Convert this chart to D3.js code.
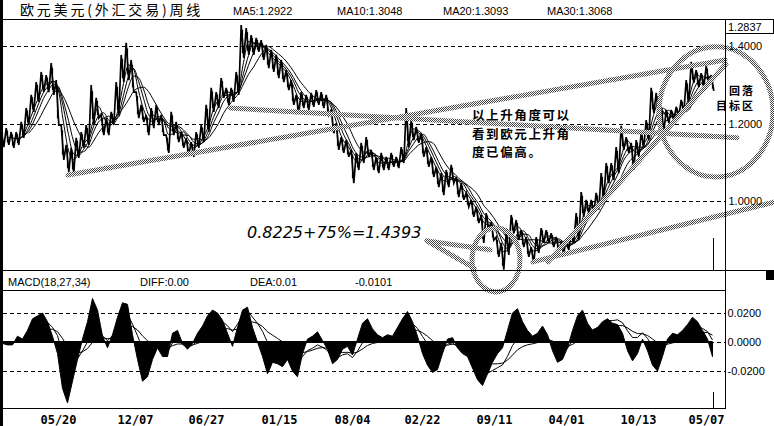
<!DOCTYPE html>
<html><head><meta charset="utf-8">
<script src="https://cdn.jsdelivr.net/npm/d3@7"></script>
<style>
html,body{margin:0;padding:0;background:#fff;}
svg{display:block;}
</style></head><body>
<svg id="c" width="774" height="426"></svg>
<script>
// ---- data (weekly EUR/USD, one entry per ~6 weeks) ----
const highs = [1.183,1.188,1.178,1.178,1.204,1.240,1.274,1.307,1.333,1.325,
1.356,1.312,1.196,1.145,1.137,1.163,1.178,1.196,1.299,1.266,
1.222,1.214,1.230,1.307,1.377,1.408,1.364,1.281,1.248,1.222,
1.240,1.248,1.222,1.170,1.230,1.204,1.178,1.163,1.152,1.178,
1.196,1.248,1.292,1.281,1.317,1.292,1.292,1.333,1.454,1.446,
1.428,1.421,1.415,1.403,1.390,1.377,1.364,1.338,1.312,1.274,
1.281,1.274,1.279,1.286,1.281,1.274,1.235,1.201,1.165,1.157,
1.132,1.124,1.150,1.165,1.132,1.114,1.124,1.114,1.124,1.114,
1.139,1.240,1.209,1.191,1.175,1.139,1.114,1.088,1.072,1.080,
1.093,1.062,1.046,1.021,1.003,0.985,0.964,0.969,0.946,0.907,
0.892,0.920,0.964,0.951,0.925,0.907,0.881,0.907,0.930,0.925,
0.917,0.907,0.892,0.899,0.917,0.969,1.023,1.003,1.003,1.021,
1.072,1.098,1.098,1.139,1.194,1.165,1.150,1.157,1.175,1.209,
1.292,1.279,1.243,1.235,1.235,1.243,1.261,1.312,1.359,1.338,
1.330,1.348,1.325];
const lows = [1.139,1.145,1.137,1.145,1.163,1.196,1.230,1.256,1.281,1.281,
1.274,1.196,1.106,1.075,1.072,1.111,1.137,1.145,1.196,1.214,
1.170,1.170,1.196,1.222,1.307,1.312,1.281,1.214,1.204,1.170,
1.188,1.196,1.170,1.124,1.170,1.152,1.137,1.119,1.114,1.137,
1.152,1.178,1.230,1.240,1.266,1.248,1.256,1.274,1.369,1.377,
1.377,1.385,1.364,1.343,1.333,1.317,1.307,1.286,1.248,1.227,
1.240,1.235,1.243,1.248,1.240,1.222,1.175,1.132,1.124,1.114,
1.046,1.080,1.098,1.114,1.080,1.072,1.080,1.080,1.088,1.085,
1.098,1.139,1.157,1.150,1.114,1.088,1.062,1.036,1.015,1.036,
1.046,1.010,1.003,0.985,0.959,0.943,0.892,0.925,0.899,0.856,
0.8225,0.861,0.917,0.899,0.881,0.856,0.840,0.866,0.892,0.892,
0.881,0.874,0.866,0.874,0.892,0.899,0.959,0.969,0.969,0.977,
1.003,1.046,1.054,1.072,1.132,1.124,1.080,1.114,1.139,1.157,
1.227,1.217,1.178,1.201,1.209,1.217,1.227,1.253,1.305,1.294,
1.294,1.305,1.284];
const macdHist = [-0.001,-0.002,-0.002,0.004,0.002,0.008,0.016,0.018,0.020,0.014,
0.004,-0.008,-0.032,-0.042,-0.027,-0.012,0.002,0.014,0.030,0.022,
0.004,-0.004,0.005,0.017,0.027,0.026,0.005,-0.012,-0.027,-0.024,
-0.012,-0.004,-0.010,-0.010,0.006,0.008,-0.001,-0.005,-0.001,0.006,
0.011,0.018,0.022,0.020,0.015,0.006,-0.003,0.010,0.022,0.024,
0.010,0.000,-0.010,-0.022,-0.014,-0.015,-0.017,-0.012,-0.020,-0.024,
-0.008,0.002,0.004,0.007,0.001,-0.005,-0.015,-0.012,-0.005,-0.003,
-0.009,0.002,0.013,0.016,0.009,0.005,0.003,0.005,0.004,0.010,
0.016,0.021,0.014,0.004,-0.008,-0.016,-0.021,-0.019,-0.008,0.002,
0.003,-0.004,-0.008,-0.010,-0.018,-0.026,-0.030,-0.022,-0.014,-0.008,
-0.004,0.008,0.020,0.023,0.014,0.008,0.004,0.006,0.011,0.005,
-0.006,-0.014,-0.012,-0.004,0.008,0.018,0.022,0.013,0.008,0.010,
0.014,0.016,0.013,0.012,0.006,-0.006,-0.013,-0.008,0.002,-0.006,
-0.016,-0.020,-0.010,0.002,0.006,0.005,0.008,0.012,0.017,0.014,
0.008,0.002,-0.0101];
const maNames = ["MA5","MA10","MA20","MA30"];
const maLast = ["1.2922","1.3048","1.3093","1.3068"];
const maWindows = [2,3,4,6];
const priceTicks = [1.0, 1.2, 1.4];
const macdTicks = [0.02, 0, -0.02];
const dateLabels = ["05/20","12/07","06/27","01/15","08/04","02/22","09/11","04/01","10/13","05/07"];
const dateIdx = [11.1,26.5,40.7,55.3,69.9,83.9,98.3,112.7,127.1,140.7];
const title = "欧元美元(外汇交易)周线";
const macdTitle = ["MACD(18,27,34)","DIFF:0.00","DEA:0.01","-0.0101"];
const lastPrice = "1.2837";
const noteCalc = "0.8225+75%=1.4393";
const noteLines = ["以上升角度可以","看到欧元上升角","度已偏高。"];
const noteTarget = ["回落","目标区"];
// hand-drawn annotation geometry in data units [index, price]
const trendLines = [
  [[13.1,1.067],[144.5,1.364]],
  [[45.5,1.240],[146.9,1.163]],
  [[106.1,0.843],[154.3,0.997]],
  [[109.1,0.843],[144.7,1.354]],
  [[84.9,0.897],[97.5,0.874]],
  [[84.9,0.897],[94.3,0.827]]
];
const rings = [ // [cIdx, cPrice, rIdx, rPrice]
  [98.7,0.848,4.8,0.0826],
  [142.7,1.230,11.4,0.168]
];

// ---- drawing ----
const N = highs.length;
const svg = d3.select("#c");
const latin = "'Liberation Sans', Arial, 'Noto Sans CJK SC', sans-serif";
const x = d3.scaleLinear().domain([0, N-1]).range([2.5, 712.5]);
const y = d3.scaleLinear().domain([1.0, 1.4]).range([201, 46]);
const yM = d3.scaleLinear().domain([-0.02, 0.02]).range([371, 313]);
const AX = 725.5;

const defs = svg.append("defs");
const pat = defs.append("pattern").attr("id","chk").attr("width",2).attr("height",2).attr("patternUnits","userSpaceOnUse");
pat.append("rect").attr("width",2).attr("height",2).attr("fill","#fff");
pat.append("rect").attr("width",1).attr("height",1).attr("fill","#444");
pat.append("rect").attr("x",1).attr("y",1).attr("width",1).attr("height",1).attr("fill","#444");
defs.append("clipPath").attr("id","cm").append("rect").attr("x",3).attr("y",20).attr("width",AX-3).attr("height",251);
defs.append("clipPath").attr("id","cd").append("rect").attr("x",3).attr("y",291).attr("width",AX-3).attr("height",117);

// gridlines
const grid = svg.append("g").attr("stroke","#000").attr("stroke-width",1).attr("stroke-dasharray","4,3");
priceTicks.forEach(t => grid.append("line").attr("x1",3).attr("x2",AX).attr("y1",Math.round(y(t))+0.5).attr("y2",Math.round(y(t))+0.5));
macdTicks.forEach(t => grid.append("line").attr("x1",3).attr("x2",AX).attr("y1",Math.round(yM(t))+0.5).attr("y2",Math.round(yM(t))+0.5));

// price: jagged high/low strokes
const idx = d3.range(N);
const gMain = svg.append("g").attr("clip-path","url(#cm)");
const zig = [];
idx.forEach(i => { zig.push([x(i)-1.3, y(highs[i])]); zig.push([x(i)+1.3, y(lows[i])]); });
gMain.append("path").datum(zig)
  .attr("d", d3.line())
  .attr("fill","none").attr("stroke","#000").attr("stroke-width",1.7).attr("stroke-linejoin","miter");
gMain.selectAll("rect.bar").data(idx).join("rect").attr("class","bar")
  .attr("x", i => x(i)-0.6).attr("width",1.2)
  .attr("y", i => y(highs[i]) + (y(lows[i])-y(highs[i]))*0.15)
  .attr("height", i => (y(lows[i])-y(highs[i]))*0.7).attr("fill","#000");
const mid = idx.map(i => (highs[i]+lows[i])/2);
maWindows.forEach(w => {
  const ma = idx.map(i => i < w-1 ? null : d3.mean(mid.slice(i-w+1, i+1)));
  gMain.append("path").datum(idx)
    .attr("d", d3.line().defined(i=>ma[i]!=null).x(i=>x(i)+1).y(i=>y(ma[i])).curve(d3.curveMonotoneX))
    .attr("fill","none").attr("stroke","#000").attr("stroke-width",1);
});

// MACD
const gM = svg.append("g").attr("clip-path","url(#cd)");
gM.append("path").datum(idx)
  .attr("d", d3.area().x(i=>x(i)).y0(yM(0)).y1(i=>yM(macdHist[i])))
  .attr("fill","#000").attr("stroke","#000").attr("stroke-width",1);
gM.append("line").attr("x1",x(0)).attr("x2",x(N-1)).attr("y1",yM(0)).attr("y2",yM(0)).attr("stroke","#000").attr("stroke-width",2);
let dea = 0; const deaA = [], diffA = [];
macdHist.forEach(h => { dea = dea*0.93 + 0.13*h; deaA.push(dea); diffA.push(dea + 0.33*h); });
[deaA, diffA].forEach(arr => {
  gM.append("path").datum(idx)
    .attr("d", d3.line().x(i=>x(i)).y(i=>yM(arr[i])))
    .attr("fill","none").attr("stroke","#000").attr("stroke-width",1);
});

// annotations
const ann = svg.append("g").attr("fill","none").attr("stroke","url(#chk)").attr("stroke-width",5).attr("stroke-linecap","round");
trendLines.forEach(l => ann.append("line")
  .attr("x1",x(l[0][0])).attr("y1",y(l[0][1])).attr("x2",x(l[1][0])).attr("y2",y(l[1][1])));
rings.forEach(r => ann.append("ellipse")
  .attr("cx",x(r[0])).attr("cy",y(r[1]))
  .attr("rx",x(r[0]+r[2])-x(r[0])).attr("ry",y(r[1]-r[3])-y(r[1])));

svg.append("text").attr("x",247).attr("y",238).text(noteCalc)
  .attr("font-family","'DejaVu Sans', sans-serif").attr("font-style","italic").attr("font-size",16).attr("fill","#000");
noteLines.forEach((t,i) => svg.append("text").attr("x",472).attr("y",[120,138.5,157][i]).text(t)
  .attr("font-family","'Noto Sans CJK SC', sans-serif").attr("font-weight",700).attr("font-size",12.5).attr("letter-spacing",1.6).attr("fill","#000"));
noteTarget.forEach((t,i) => svg.append("text").attr("x",[729,716][i]).attr("y",[95,110][i]).text(t)
  .attr("font-family","'Noto Sans CJK SC', sans-serif").attr("font-weight",700).attr("font-size",11).attr("letter-spacing",2).attr("fill","#000"));

// frames
const fr = svg.append("g").attr("stroke","#000").attr("stroke-width",1).attr("shape-rendering","crispEdges");
fr.append("line").attr("x1",0).attr("x2",774).attr("y1",19.5).attr("y2",19.5);
fr.append("line").attr("x1",0).attr("x2",766).attr("y1",270.5).attr("y2",270.5);
fr.append("line").attr("x1",0).attr("x2",AX).attr("y1",290.5).attr("y2",290.5);
fr.append("line").attr("x1",0).attr("x2",AX).attr("y1",408.5).attr("y2",408.5);
fr.append("line").attr("x1",AX).attr("x2",AX).attr("y1",19.5).attr("y2",408.5);
fr.append("rect").attr("x",AX).attr("y",19.5).attr("width",48).attr("height",13.5).attr("fill","none");
fr.append("line").attr("x1",Math.round(x(N-1))+0.5).attr("x2",Math.round(x(N-1))+0.5).attr("y1",238).attr("y2",270.5);
fr.append("line").attr("x1",Math.round(x(N-1))+0.5).attr("x2",Math.round(x(N-1))+0.5).attr("y1",392).attr("y2",408.5);
svg.append("rect").attr("x",0).attr("y",0).attr("width",3).attr("height",426).attr("fill","#000");
svg.append("rect").attr("x",766).attr("y",270).attr("width",8).attr("height",10).attr("fill","#000");

// axes
const ra = svg.append("g").attr("transform",`translate(${AX},0)`)
  .call(d3.axisRight(y).tickValues(priceTicks).tickFormat(d=>d.toFixed(4)).tickSize(0).tickPadding(3));
const rm = svg.append("g").attr("transform",`translate(${AX},0)`)
  .call(d3.axisRight(yM).tickValues(macdTicks).tickFormat(d=>d.toFixed(4)).tickSize(0).tickPadding(2));
const xa = svg.append("g").attr("transform","translate(0,408)")
  .call(d3.axisBottom(x).tickValues(dateIdx).tickFormat((d,i)=>dateLabels[i]).tickSize(0).tickPadding(7));
[ra, rm].forEach(g => { g.select(".domain").remove(); g.selectAll("text").attr("font-family",latin).attr("font-size",11).attr("fill","#000"); });
xa.select(".domain").remove();
xa.selectAll("text").attr("font-family","'DejaVu Sans Mono', monospace").attr("font-weight","bold").attr("font-size",12).attr("fill","#000");

// header texts
svg.append("text").attr("x",728).attr("y",31).text(lastPrice).attr("font-family",latin).attr("font-size",11);
svg.append("text").attr("x",20).attr("y",15).text(title)
  .attr("font-family","'Noto Sans CJK SC', sans-serif").attr("font-size",14).attr("letter-spacing",2.8);
maNames.forEach((n,i) => svg.append("text").attr("x",[233,337,443,547][i]).attr("y",15)
  .text(n+":"+maLast[i]).attr("font-family",latin).attr("font-size",11));
macdTitle.forEach((t,i) => svg.append("text").attr("x",[8,140,250,355][i]).attr("y",286)
  .text(t).attr("font-family",latin).attr("font-size",11));
</script>
</body></html>
